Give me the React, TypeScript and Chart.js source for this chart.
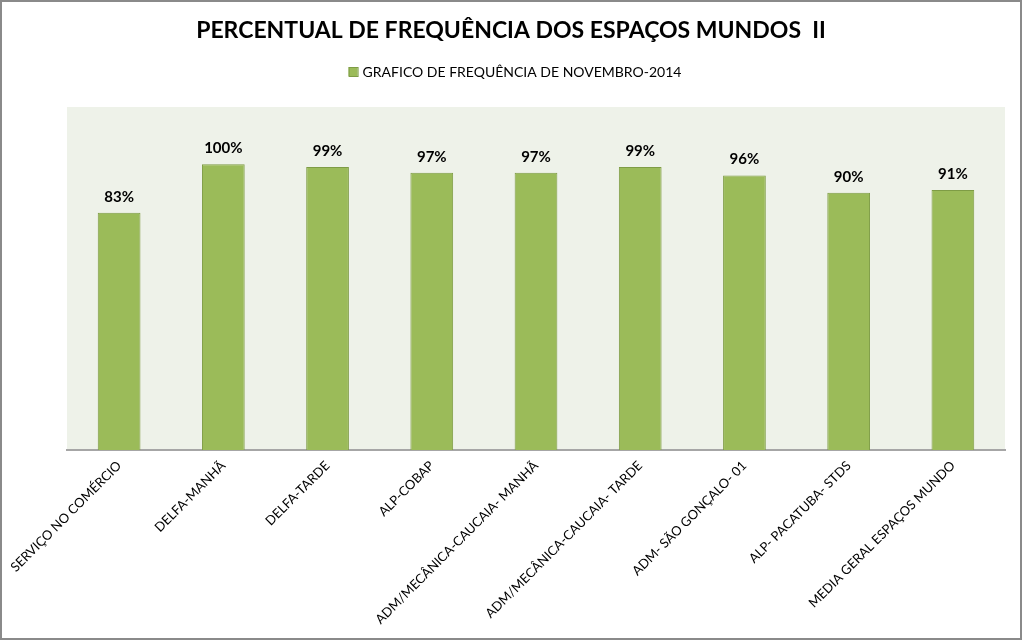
import React, { useEffect, useRef } from "react";
import { Chart, registerables } from "chart.js";

Chart.register(...registerables);

const categories = [
  "SERVIÇO NO COMÉRCIO",
  "DELFA-MANHÃ",
  "DELFA-TARDE",
  "ALP-COBAP",
  "ADM/MECÂNICA-CAUCAIA- MANHÃ",
  "ADM/MECÂNICA-CAUCAIA- TARDE",
  "ADM- SÃO GONÇALO- 01",
  "ALP- PACATUBA- STDS",
  "MEDIA GERAL ESPAÇOS MUNDO",
];
const frequencia = [0.83, 1.0, 0.99, 0.97, 0.97, 0.99, 0.96, 0.9, 0.91];
const seriesName = "GRAFICO DE FREQUÊNCIA DE NOVEMBRO-2014";
const chartTitle = "PERCENTUAL DE FREQUÊNCIA DOS ESPAÇOS MUNDOS  II";

const FONT = "Lato, 'Open Sans', sans-serif";
const BAR_FILL = "#9BBB59";
const BAR_BORDER = "#7E9C45";
const PLOT_BG = "#EEF2E9";

const decorPlugin = {
  id: "decor",
  beforeDraw(chart: any) {
    const { ctx, chartArea, width, height } = chart;
    ctx.save();
    ctx.fillStyle = "#FFFFFF";
    ctx.fillRect(0, 0, width, height);
    ctx.fillStyle = PLOT_BG;
    ctx.fillRect(chartArea.left, chartArea.top, chartArea.right - chartArea.left, chartArea.bottom - chartArea.top);
    ctx.restore();
  },
  afterDraw(chart: any) {
    const { ctx } = chart;
    ctx.save();
    // title
    ctx.fillStyle = "#000000";
    ctx.textAlign = "center";
    ctx.textBaseline = "middle";
    ctx.font = `bold 23px ${FONT}`;
    ctx.fillText(chartTitle, 511, 31);
    // legend
    ctx.font = `14px ${FONT}`;
    const tw = ctx.measureText(seriesName).width;
    const total = 10 + 4 + tw;
    const x0 = 515 - total / 2;
    ctx.fillStyle = BAR_FILL;
    ctx.fillRect(x0, 67, 9, 9);
    ctx.strokeStyle = BAR_BORDER;
    ctx.lineWidth = 1;
    ctx.strokeRect(x0 + 0.5, 67.5, 9, 9);
    ctx.fillStyle = "#000000";
    ctx.textAlign = "left";
    ctx.fillText(seriesName, x0 + 14, 72);
    // data labels
    const meta = chart.getDatasetMeta(0);
    ctx.font = `bold 15px ${FONT}`;
    ctx.textAlign = "center";
    ctx.textBaseline = "middle";
    meta.data.forEach((bar: any, i: number) => {
      const v = frequencia[i];
      ctx.fillText(Math.round(v * 100) + "%", bar.x, bar.y - 16);
    });
    // outer border
    ctx.strokeStyle = "#8A8A8A";
    ctx.lineWidth = 2;
    ctx.strokeRect(1, 1, 1020, 638);
    ctx.restore();
  },
};

export default function App() {
  const ref = useRef<HTMLCanvasElement | null>(null);
  useEffect(() => {
    document.body.style.margin = "0";
    if (!ref.current) return;
    const chart = new Chart(ref.current, {
      type: "bar",
      data: {
        labels: categories,
        datasets: [
          {
            label: seriesName,
            data: frequencia,
            backgroundColor: BAR_FILL,
            borderColor: BAR_BORDER,
            borderWidth: 1,
            barPercentage: 0.41,
            categoryPercentage: 1,
          },
        ],
      },
      options: {
        responsive: false,
        animation: false,
        layout: { padding: { left: 67, right: 19, top: 107, bottom: 0 } },
        plugins: {
          legend: { display: false },
          title: { display: false },
          tooltip: { enabled: false },
        },
        scales: {
          x: {
            grid: { display: false, drawTicks: false },
            border: { display: true, color: "#A6A6A6", width: 2 },
            ticks: {
              color: "#000000",
              font: { family: FONT, size: 13 },
              maxRotation: 45,
              minRotation: 45,
              autoSkip: false,
              padding: 8,
            },
            afterFit(scale: any) {
              scale.height = 191;
            },
          },
          y: {
            display: false,
            min: 0,
            max: 1.2,
          },
        },
      },
      plugins: [decorPlugin],
    });
    return () => chart.destroy();
  }, []);
  return (
    <div style={{ position: "absolute", left: 0, top: 0, width: 1024, height: 641 }}>
      <canvas ref={ref} width={1024} height={641} />
    </div>
  );
}
